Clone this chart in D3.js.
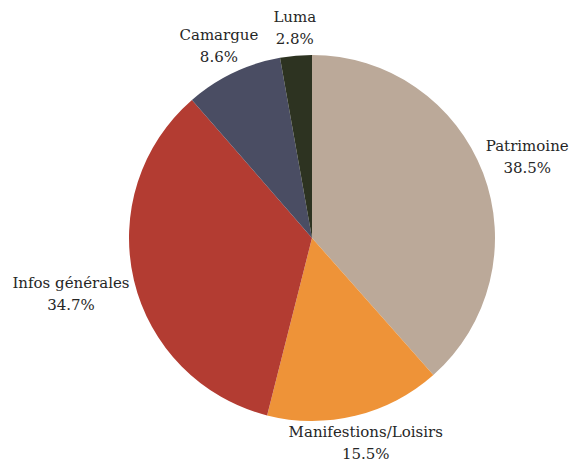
<!DOCTYPE html>
<html><head><meta charset="utf-8">
<script src="https://cdn.jsdelivr.net/npm/d3@7"></script>
<style>body{margin:0;background:#fff;} svg{display:block;}</style>
</head><body>
<svg id="chart" width="574" height="468"></svg>
<script>
const categories = ["Patrimoine", "Manifestions/Loisirs", "Infos générales", "Camargue", "Luma"];
const values = [38.5, 15.5, 34.7, 8.6, 2.8];
const labels = ["38.5%", "15.5%", "34.7%", "8.6%", "2.8%"];
const colors = ["#bba999", "#ee9338", "#b33c32", "#4a4d63", "#2d3321"];

const W = 574, H = 468, cx = 312, cy = 238, r = 183, lr = 190;
const svg = d3.select("#chart");
const g = svg.append("g").attr("transform", `translate(${cx},${cy})`);
const data = categories.map((c, i) => ({c, v: values[i], l: labels[i], col: colors[i]}));
const pie = d3.pie().sort(null).value(d => d.v);
const arc = d3.arc().innerRadius(0).outerRadius(r);
const arcs = pie(data);
g.selectAll("path").data(arcs).join("path").attr("d", arc).attr("fill", d => d.data.col);

const font = "'DejaVu Serif', serif";
const fs = 15, lh = 22;
arcs.forEach(a => {
  const ang = (a.startAngle + a.endAngle) / 2;
  const s = Math.sin(ang), c = -Math.cos(ang);
  const t = g.append("text").attr("font-family", font).attr("font-size", fs).attr("fill", "#262626").attr("text-anchor", "middle");
  t.append("tspan").attr("x", 0).attr("dy", 0).text(a.data.c);
  t.append("tspan").attr("x", 0).attr("dy", lh).text(a.data.l);
  const bb = t.node().getBBox();
  const w = bb.width, h = bb.height;
  const px = s * lr, py = c * lr;
  const ox = s * Math.sqrt(Math.abs(s)) * w / 2;
  const oy = Math.sign(c) * Math.pow(Math.abs(c), 0.4) * (h / 2 + 1);
  t.attr("transform", `translate(${px + ox},${py + oy - bb.y - h / 2})`);
});
</script>
</body></html>
